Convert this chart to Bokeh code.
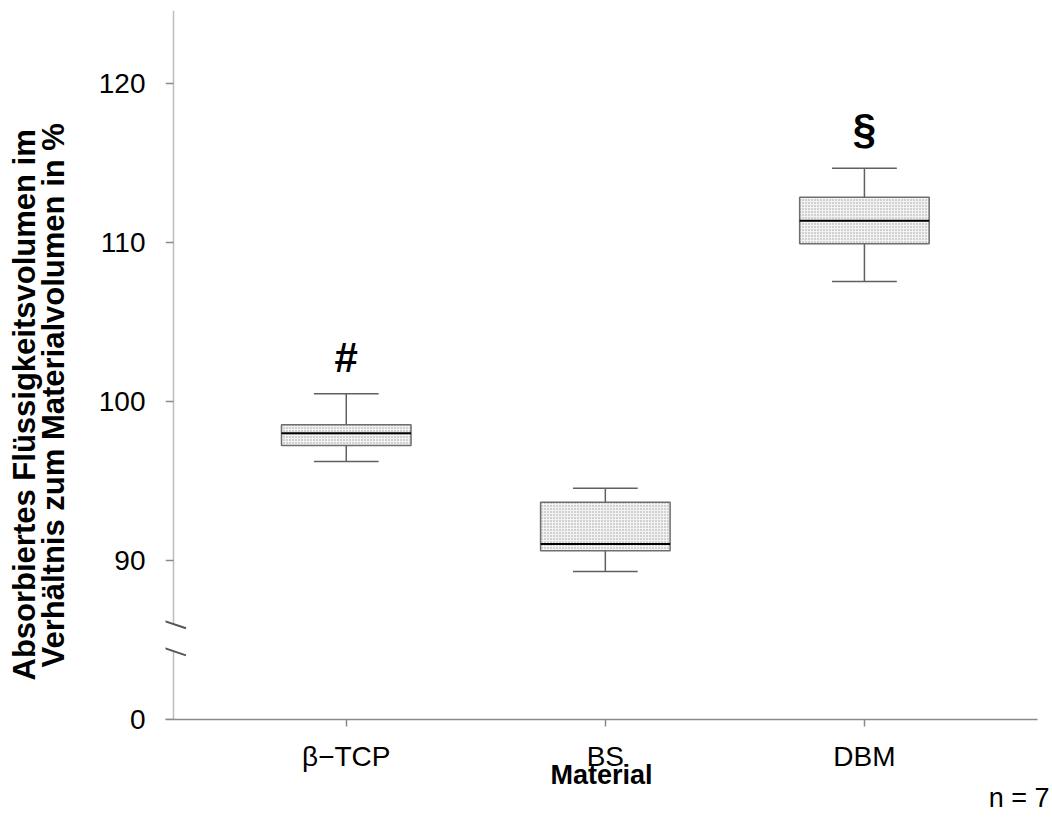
from bokeh.plotting import figure
from bokeh.models import Range1d, FixedTicker, Label, Title
from bokeh.embed import file_html
from bokeh.resources import INLINE

# ---------------- data ----------------
categories = ["β−TCP", "BS", "DBM"]
whisker_low = [96.23, 89.31, 107.55]
q1 = [97.23, 90.61, 109.92]
median = [98.01, 91.03, 111.36]
q3 = [98.53, 93.67, 112.85]
whisker_high = [100.48, 94.55, 114.67]
sig_marks = ["#", "", "§"]
y_ticks = [80, 90, 100, 110, 120]
y_tick_labels = ["0", "90", "100", "110", "120"]
y_title_lines = ["Absorbiertes Flüssigkeitsvolumen im", "Verhältnis zum Materialvolumen in %"]
x_title = "Material"
n_label = "n = 7"

# ---------------- layout ----------------
FONT = "Liberation Sans"
W, H = 1050, 816
ML, MT = 165, 10
MR = W - 1037
MB = H - 719
frame_w = W - ML - MR
frame_h = H - MT - MB

xs = [i + 1 for i in range(len(categories))]
x0, x1 = 0.3023, 3.668
y0, y1 = 80.0, 124.59
ppx = frame_w / (x1 - x0)
ppy = frame_h / (y1 - y0)

def dx(px):  # pixel distance -> data x distance
    return px / ppx

def dy(px):
    return px / ppy

p = figure(width=W, height=H, output_backend="svg", toolbar_location=None,
           x_range=Range1d(x0, x1), y_range=Range1d(y0, y1),
           min_border_left=ML, min_border_right=MR, min_border_top=MT,
           min_border_bottom=MB)
p.outline_line_color = None
p.xgrid.visible = False
p.ygrid.visible = False
p.background_fill_color = "white"

# x axis
xa = p.xaxis[0]
xa.ticker = FixedTicker(ticks=xs)
xa.major_label_overrides = {x: c for x, c in zip(xs, categories)}
xa.minor_tick_line_color = None
xa.major_tick_in = 0
xa.major_tick_out = 7
xa.major_tick_line_color = "#8a8a8a"
xa.major_tick_line_width = 1.5
xa.axis_line_color = "#8a8a8a"
xa.axis_line_width = 1.5
xa.major_label_text_font = FONT
xa.major_label_text_font_size = "28px"
xa.major_label_text_color = "black"
xa.major_label_standoff = 14
xa.axis_label = x_title
xa.axis_label_text_font = FONT
xa.axis_label_text_font_style = "bold"
xa.axis_label_text_font_size = "27px"
xa.axis_label_text_color = "black"
xa.axis_label_standoff = -15

# y axis: labels only, line/ticks drawn by hand (broken axis)
ya = p.yaxis[0]
ya.ticker = FixedTicker(ticks=y_ticks)
ya.major_label_overrides = {t: l for t, l in zip(y_ticks, y_tick_labels)}
ya.axis_line_color = None
ya.major_tick_line_color = None
ya.minor_tick_line_color = None
ya.major_label_text_font = FONT
ya.major_label_text_font_size = "28px"
ya.major_label_text_color = "black"
ya.major_label_standoff = 14

# y axis title lines (nearest the axis first)
t2 = Title(text=y_title_lines[1], align="left", offset=52, standoff=49,
           text_font=FONT, text_font_style="bold", text_font_size="31px",
           text_color="black")
t1 = Title(text=y_title_lines[0], align="left", offset=39, standoff=-64,
           text_font=FONT, text_font_style="bold", text_font_size="31px",
           text_color="black")
p.add_layout(t2, "left")
p.add_layout(t1, "left")

# sample size note
tn = Title(text=n_label, align="right", offset=-12, standoff=-24,
           text_font=FONT, text_font_style="normal", text_font_size="27px",
           text_color="black")
p.add_layout(tn, "below")

x_ax = x0 + dx(8)
brk_hi = 86.0
brk_lo = 84.3
axis_col = "#bdbdbd"
p.segment(x0=[x_ax, x_ax], y0=[y1, brk_lo], x1=[x_ax, x_ax], y1=[brk_hi, y0],
          line_color=axis_col, line_width=1.5)
# y ticks
p.segment(x0=[x0] * len(y_ticks), y0=y_ticks, x1=[x_ax] * len(y_ticks), y1=y_ticks,
          line_color="#8a8a8a", line_width=1.5)
# break marks
for yc in (brk_hi, brk_lo):
    p.segment(x0=[x_ax - dx(12.5)], y0=[yc + dy(4.2)], x1=[x_ax + dx(12.5)], y1=[yc - dy(4.2)],
              line_color="#555555", line_width=2)

# ---------------- boxes ----------------
box_w = 0.5
cap_w = 0.25
p.vbar(x=xs, width=box_w, bottom=q1, top=q3,
       fill_color="#f3f3f3", line_color="#6e6e6e", line_width=1.5,
       hatch_pattern="dot", hatch_color="#9c9c9c", hatch_scale=3, hatch_weight=1)
p.segment(x0=[x - box_w / 2 for x in xs], y0=median, x1=[x + box_w / 2 for x in xs], y1=median,
          line_color="black", line_width=2)
p.segment(x0=xs, y0=q3, x1=xs, y1=whisker_high, line_color="#606060", line_width=1.5)
p.segment(x0=xs, y0=q1, x1=xs, y1=whisker_low, line_color="#606060", line_width=1.5)
p.segment(x0=[x - cap_w / 2 for x in xs], y0=whisker_high, x1=[x + cap_w / 2 for x in xs],
          y1=whisker_high, line_color="#606060", line_width=1.5)
p.segment(x0=[x - cap_w / 2 for x in xs], y0=whisker_low, x1=[x + cap_w / 2 for x in xs],
          y1=whisker_low, line_color="#606060", line_width=1.5)

# significance marks
gaps = {"#": 36, "§": 40}
for x, m, wh in zip(xs, sig_marks, whisker_high):
    if m:
        p.add_layout(Label(x=x, y=wh + dy(gaps[m]), text=m, text_align="center",
                           text_baseline="alphabetic", text_font=FONT,
                           text_font_style="bold", text_font_size="42px",
                           text_color="black"))

open("out.html", "w").write(file_html(p, INLINE))
